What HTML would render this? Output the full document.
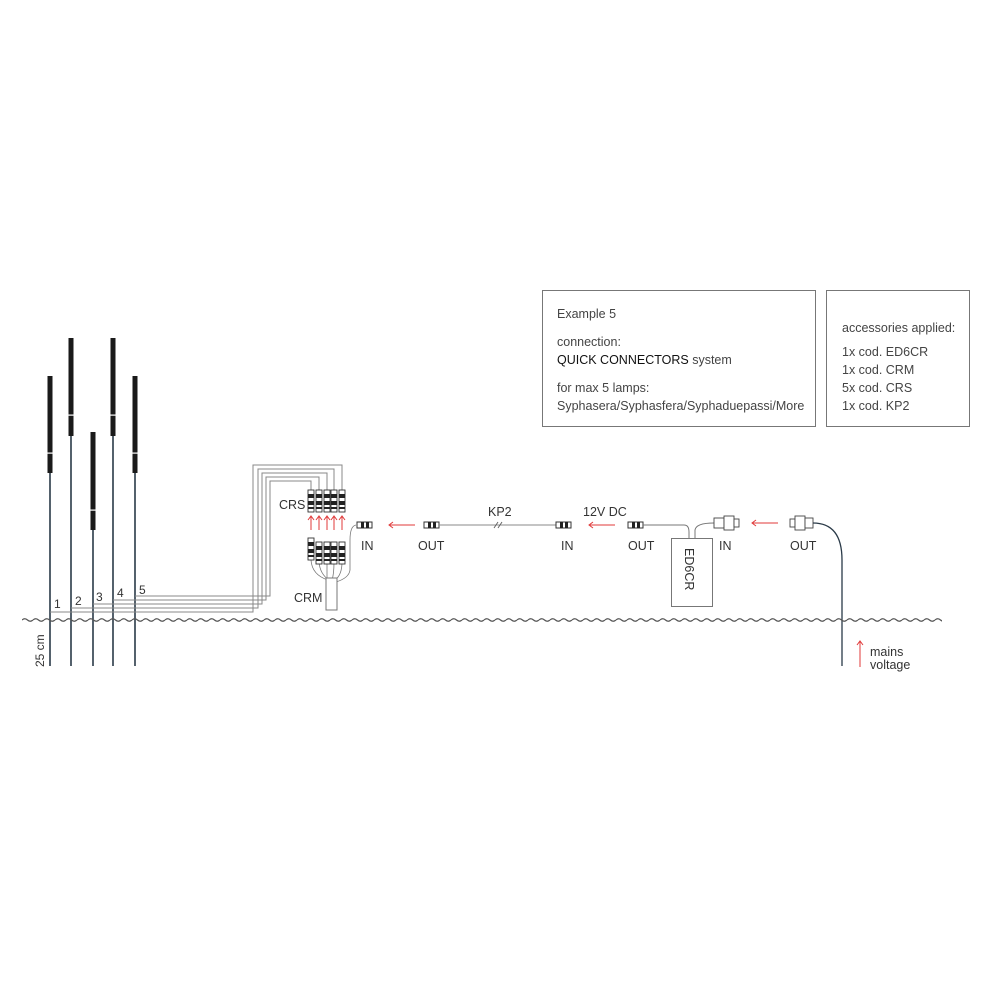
<!DOCTYPE html>
<html><head><style>
html,body{margin:0;padding:0;background:#fff;}
svg{display:block;font-family:"Liberation Sans",Arial,sans-serif;}
</style></head><body>
<svg width="1000" height="1000" viewBox="0 0 1000 1000" xmlns="http://www.w3.org/2000/svg">
<defs>
<pattern id="wave" x="22" y="615" width="11" height="10" patternUnits="userSpaceOnUse">
<path d="M0 5 Q2.75 2.5 5.5 5 T11 5" fill="none" stroke="#555" stroke-width="1.2"/>
</pattern>
<g id="sc">
<rect x="0" y="-3" width="15" height="6" fill="#fff" stroke="#333" stroke-width="1"/>
<rect x="4" y="-3" width="3" height="6" fill="#222"/>
<rect x="9" y="-3" width="3" height="6" fill="#222"/>
</g>
<g id="vc">
<rect x="-3" y="0" width="6" height="22" fill="#fff" stroke="#333" stroke-width="0.9"/>
<rect x="-3" y="4" width="6" height="4" fill="#222"/>
<rect x="-3" y="11" width="6" height="4" fill="#222"/>
<rect x="-3" y="17" width="6" height="2" fill="#222"/>
</g>
</defs>

<!-- info boxes -->
<rect x="542.5" y="290.5" width="273" height="136" fill="none" stroke="#777"/>
<rect x="826.5" y="290.5" width="143" height="136" fill="none" stroke="#777"/>
<g font-size="12.5" fill="#444">
<text x="557" y="318">Example 5</text>
<text x="557" y="346">connection:</text>
<text x="557" y="364"><tspan fill="#111">QUICK CONNECTORS</tspan> system</text>
<text x="557" y="392">for max 5 lamps:</text>
<text x="557" y="410">Syphasera/Syphasfera/Syphaduepassi/More</text>
<text x="842" y="332">accessories applied:</text>
<text x="842" y="356">1x cod. ED6CR</text>
<text x="842" y="374">1x cod. CRM</text>
<text x="842" y="392">5x cod. CRS</text>
<text x="842" y="410">1x cod. KP2</text>
</g>

<!-- poles -->
<g stroke="#2a3a48" stroke-width="1.6">
<line x1="50" y1="470" x2="50" y2="666"/>
<line x1="71" y1="430" x2="71" y2="666"/>
<line x1="93" y1="525" x2="93" y2="666"/>
<line x1="113" y1="430" x2="113" y2="666"/>
<line x1="135" y1="470" x2="135" y2="666"/>
</g>
<g fill="#1a1a1a">
<rect x="47.5" y="376" width="5" height="97"/>
<rect x="68.5" y="338" width="5" height="98"/>
<rect x="90.5" y="432" width="5" height="98"/>
<rect x="110.5" y="338" width="5" height="98"/>
<rect x="132.5" y="376" width="5" height="97"/>
</g>
<g fill="#fff">
<rect x="47.5" y="452.5" width="5" height="1.2"/>
<rect x="68.5" y="414.5" width="5" height="1.2"/>
<rect x="90.5" y="509.5" width="5" height="1.2"/>
<rect x="110.5" y="414.5" width="5" height="1.2"/>
<rect x="132.5" y="452.5" width="5" height="1.2"/>
</g>

<!-- wires -->
<g fill="none" stroke="#888" stroke-width="1">
<path d="M50 612 H253 V465 H342 V490"/>
<path d="M71 608 H258 V469 H334 V490"/>
<path d="M93 604 H262 V473 H327 V490"/>
<path d="M113 600 H266 V477 H319 V490"/>
<path d="M135 596 H270 V481 H311 V490"/>
</g>
<g font-size="12" fill="#333">
<text x="54" y="608">1</text>
<text x="75" y="605">2</text>
<text x="96" y="601">3</text>
<text x="117" y="597">4</text>
<text x="139" y="594">5</text>
<text x="0" y="0" transform="translate(44,667) rotate(-90)">25 cm</text>
</g>

<!-- CRS -->
<use href="#vc" x="311" y="490"/><use href="#vc" x="319" y="490"/><use href="#vc" x="327" y="490"/><use href="#vc" x="334" y="490"/><use href="#vc" x="342" y="490"/>
<text x="279" y="509" font-size="12.5" fill="#333">CRS</text>
<g stroke="#e03a3a" stroke-width="1" fill="none">
<path d="M311 530 V517 M308 520 L311 516 L314 520"/>
<path d="M319 530 V517 M316 520 L319 516 L322 520"/>
<path d="M327 530 V517 M324 520 L327 516 L330 520"/>
<path d="M334 530 V517 M331 520 L334 516 L337 520"/>
<path d="M342 530 V517 M339 520 L342 516 L345 520"/>
</g>
<!-- CRM -->
<g fill="none" stroke="#777" stroke-width="0.8">
<path d="M311 560 Q312 575 328 580"/><path d="M319 562 Q320 574 329 580"/><path d="M327 562 V580"/><path d="M334 562 Q334 574 332 580"/><path d="M342 562 Q342 575 335 580"/>
<path d="M356 525 Q350 526 350 540 V570 Q349 578 336 582"/>
</g>
<use href="#vc" x="311" y="538"/><use href="#vc" x="319" y="542"/><use href="#vc" x="327" y="542"/><use href="#vc" x="334" y="542"/><use href="#vc" x="342" y="542"/>
<rect x="326" y="578" width="11" height="32" fill="#fff" stroke="#777"/>
<text x="294" y="602" font-size="12.5" fill="#333">CRM</text>

<!-- chain -->
<use href="#sc" x="357" y="525"/>
<use href="#sc" x="424" y="525"/>
<line x1="439" y1="525" x2="556" y2="525" stroke="#888"/>
<path d="M494 528 L498 522 M498 528 L502 522" stroke="#666"/>
<use href="#sc" x="556" y="525"/>
<use href="#sc" x="628" y="525"/>
<g stroke="#e03a3a" stroke-width="1" fill="none">
<path d="M415 525 H389 M393 522 L389 525 L393 528"/>
<path d="M615 525 H589 M593 522 L589 525 L593 528"/>
<path d="M778 523 H752 M756 520 L752 523 L756 526"/>
<path d="M860 667 V641 M857 645 L860 641 L863 645"/>
</g>
<g font-size="12.5" fill="#333">
<text x="361" y="550">IN</text>
<text x="418" y="550">OUT</text>
<text x="488" y="516">KP2</text>
<text x="561" y="550">IN</text>
<text x="583" y="516">12V DC</text>
<text x="628" y="550">OUT</text>
<text x="719" y="550">IN</text>
<text x="790" y="550">OUT</text>
<text x="870" y="656">mains</text>
<text x="870" y="669">voltage</text>
</g>
<g fill="none" stroke="#777" stroke-width="1">
<path d="M643 525 H684 Q689 525 689 532 V538"/>
<path d="M714 523 Q696 523 695 530 V538"/>
</g>
<rect x="671.5" y="538.5" width="41" height="68" fill="#fff" stroke="#777"/>
<text transform="translate(685,548) rotate(90)" font-size="12.5" fill="#333">ED6CR</text>
<!-- big connectors -->
<g fill="#fff" stroke="#444" stroke-width="0.9">
<rect x="714" y="518" width="10" height="10"/><rect x="724" y="516" width="10" height="14"/><rect x="734" y="519" width="5" height="8"/>
<rect x="790" y="519" width="5" height="8"/><rect x="795" y="516" width="10" height="14"/><rect x="805" y="518" width="8" height="10"/>
</g>
<path d="M813 523 Q842 523 842 560 V666" fill="none" stroke="#2a3a48" stroke-width="1.3"/>

<!-- ground -->
<rect x="22" y="615" width="920" height="10" fill="url(#wave)"/>
</svg>
</body></html>
